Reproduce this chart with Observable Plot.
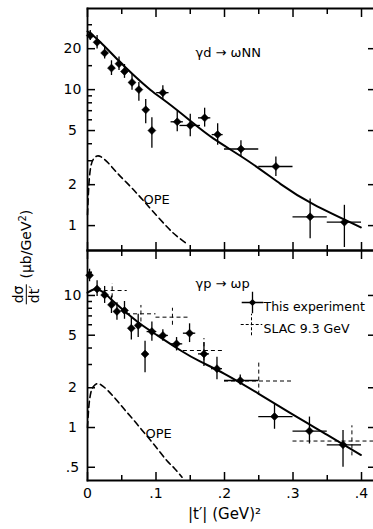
<!DOCTYPE html>
<html><head><meta charset="utf-8">
<script src="https://cdn.jsdelivr.net/npm/d3@7"></script>
<script src="https://cdn.jsdelivr.net/npm/@observablehq/plot@0.6"></script>
<style>
body{margin:0;background:#fff;}
#wrap{position:relative;width:373px;height:529px;overflow:hidden;font-family:"DejaVu Sans",sans-serif;background:#fff;}
#wrap svg{display:block;}
#ylab{position:absolute;left:26px;top:257px;transform:translate(-50%,-50%) rotate(-90deg);white-space:nowrap;font-size:14px;display:flex;align-items:center;color:#000;}
.frac{display:inline-flex;flex-direction:column;align-items:center;line-height:1.05;margin-right:6px;}
.frac .num{border-bottom:1.3px solid #000;padding:0 1px;}
sup{font-size:10px;}
</style></head><body><div id="wrap"></div>
<script>
// ---------- ticks ----------
const xMajor = [0, 0.1, 0.2, 0.3, 0.4];
const xMinor = [0.05, 0.15, 0.25, 0.35];
const yTopMajor = [1, 2, 5, 10, 20];
const yTopMinor = [3, 4, 6, 7, 8, 9, 15, 30];
const yBotMajor = [0.5, 1, 2, 5, 10];
const yBotMinor = [3, 4, 6, 7, 8, 9, 15];

// ---------- top panel: γd → ωNN (this experiment) ----------
const dT   = [0.004,0.014,0.025,0.035,0.046,0.054,0.065,0.075,0.085,0.094,0.110,0.131,0.150,0.171,0.190,0.224,0.275,0.325,0.375];
const dY   = [25.0,22.3,18.6,14.4,15.5,13.6,11.3,10.0,7.1,5.0,9.5,5.8,5.45,6.2,4.67,3.66,2.72,1.16,1.06];
const dYlo = [23.0,19.9,16.8,12.7,13.8,12.1,9.9,8.2,5.6,3.7,8.4,4.9,4.5,5.3,3.9,3.2,2.3,0.80,0.69];
const dYhi = [27.2,25.0,20.6,16.3,17.4,15.3,12.9,11.3,8.45,6.2,10.7,6.9,6.6,7.3,5.6,4.2,3.2,1.57,1.41];
const dTlo = [null,null,null,null,null,null,null,null,null,null,0.101,0.122,0.135,0.162,0.182,0.20,0.25,0.30,0.35];
const dThi = [null,null,null,null,null,null,null,null,null,null,0.119,0.140,0.165,0.180,0.198,0.25,0.30,0.35,0.40];
// fit and OPE curves (top)
const dFitT = [0,0.004,0.019,0.043,0.068,0.092,0.116,0.150,0.184,0.234,0.282,0.330,0.399];
const dFitY = [26.8,26.0,22.3,16.8,12.7,9.95,8.07,5.9,4.36,3.0,2.02,1.43,0.97];
const dOpeT = [0,0.002,0.005,0.009,0.014,0.020,0.030,0.043,0.060,0.077,0.095,0.116,0.130,0.146];
const dOpeY = [1.2,2.0,2.75,3.1,3.25,3.2,2.9,2.45,2.0,1.62,1.28,0.98,0.84,0.73];

// ---------- bottom panel: γp → ωp ----------
const pT   = [0.003,0.014,0.025,0.035,0.043,0.054,0.064,0.074,0.084,0.094,0.110,0.130,0.149,0.170,0.189,0.223,0.273,0.324,0.373];
const pY   = [14.2,11.2,10.1,8.5,7.57,7.7,5.65,5.93,3.6,5.33,4.98,4.3,5.18,3.61,2.79,2.27,1.21,0.94,0.74];
const pYlo = [12.7,9.8,8.7,7.3,6.5,6.6,4.6,4.8,2.6,4.5,4.5,3.8,4.4,2.9,2.3,2.1,0.97,0.75,0.50];
const pYhi = [15.8,12.9,11.7,9.9,8.8,9.0,6.9,7.2,4.5,6.3,5.5,4.8,6.1,4.4,3.4,2.5,1.5,1.2,0.95];
const pTlo = [null,null,null,null,null,null,null,null,null,0.087,0.102,0.121,0.140,0.162,0.181,0.20,0.25,0.30,0.35];
const pThi = [null,null,null,null,null,null,null,null,null,0.101,0.118,0.139,0.158,0.178,0.197,0.25,0.30,0.35,0.40];
// SLAC 9.3 GeV
const sT   = [0.036,0.078,0.124,0.170,0.250,0.386];
const sY   = [10.9,7.26,6.85,3.83,2.25,0.79];
const sYlo = [9.6,6.3,5.95,3.2,1.76,0.61];
const sYhi = [12.3,8.4,8.0,4.72,3.08,1.03];
const sTlo = [0.014,0.057,0.100,0.140,0.200,0.300];
const sThi = [0.058,0.100,0.150,0.200,0.300,0.450];
// fit and OPE curves (bottom)
const pFitT = [0,0.007,0.014,0.024,0.034,0.053,0.077,0.102,0.136,0.165,0.200,0.250,0.300,0.350,0.399];
const pFitY = [10.5,11.0,11.1,10.5,9.4,7.7,6.1,4.98,3.83,3.15,2.55,1.80,1.25,0.88,0.62];
const pOpeT = [0,0.002,0.005,0.009,0.014,0.020,0.030,0.043,0.055,0.068,0.080,0.092,0.104,0.116,0.127,0.138];
const pOpeY = [1.0,1.45,1.85,2.05,2.15,2.1,1.9,1.6,1.35,1.13,0.95,0.80,0.67,0.56,0.49,0.42];

const pts = (T, Y, lo, hi, tlo, thi) => T.map((t, i) => ({t, y: Y[i], lo: lo[i], hi: hi[i], tlo: tlo[i], thi: thi[i]}));
const curve = (T, Y) => T.map((t, i) => ({t, y: Y[i]}));
const topPts = pts(dT, dY, dYlo, dYhi, dTlo, dThi);
const botPts = pts(pT, pY, pYlo, pYhi, pTlo, pThi);
const slac = pts(sT, sY, sYlo, sYhi, sTlo, sThi);

const fmt = d => d === 0 ? "0" : String(d).replace(/^0\./, ".");
const FONT = "DejaVu Sans, sans-serif";
const common = {
  width: 373, marginLeft: 87, marginRight: 0,
  x: {type: "linear", domain: [0, 0.4175], label: null},
  style: {fontFamily: FONT, fontSize: "14px", background: "transparent", overflow: "visible", color: "black"}
};
const tickW = 1.5;
const xTicks = (anchor) => [
  Plot.axisX(xMajor, {anchor, tickSize: -8, fill: "none", strokeWidth: tickW, label: null}),
  Plot.axisX(xMinor, {anchor, tickSize: -5, fill: "none", strokeWidth: tickW, label: null})
];
const yTicks = (major, minor) => [
  Plot.axisY(major, {anchor: "left", tickSize: -8, fill: "none", strokeWidth: tickW, label: null}),
  Plot.text(major, {y: d => d, text: fmt, frameAnchor: "left", dx: -15, textAnchor: "middle", fontSize: 14}),
  Plot.axisY(minor, {anchor: "left", tickSize: -5, fill: "none", strokeWidth: tickW, label: null}),
  Plot.axisY(major, {anchor: "right", tickSize: -6, fill: "none", strokeWidth: tickW, label: null})
];
const frames = (sides) => sides.map(a => Plot.frame({anchor: a, strokeWidth: 1.8}));
const dataMarks = (P) => [
  Plot.ruleX(P, {x: "t", y1: "lo", y2: "hi", strokeWidth: 1.3}),
  Plot.ruleY(P.filter(d => d.tlo != null), {y: "y", x1: "tlo", x2: "thi", strokeWidth: 1.3}),
  Plot.dot(P, {x: "t", y: "y", symbol: "diamond2", r: 3.6, fill: "black", stroke: "black", strokeWidth: 0.5})
];

const topPlot = Plot.plot({
  ...common, height: 250, marginTop: 8, marginBottom: 0,
  y: {type: "log", domain: [0.656, 39.5], label: null},
  marks: [
    ...xTicks("top"), ...xTicks("bottom"),
    ...yTicks(yTopMajor, yTopMinor),
    ...frames(["left", "top", "bottom"]),
    Plot.line(curve(dOpeT, dOpeY), {x: "t", y: "y", curve: "natural", strokeWidth: 1.6, strokeDasharray: "6,4"}),
    Plot.line(curve(dFitT, dFitY), {x: "t", y: "y", curve: "natural", strokeWidth: 2}),
    ...dataMarks(topPts),
    Plot.text(["γd → ωNN"], {frameAnchor: "top-left", dx: 108, dy: 39, textAnchor: "start", fontSize: 13}),
    Plot.text(["OPE"], {frameAnchor: "top-left", dx: 56, dy: 186, textAnchor: "start", fontSize: 13})
  ]
});

const botPlot = Plot.plot({
  ...common, height: 279, marginTop: 0, marginBottom: 49,
  y: {type: "log", domain: [0.397, 21.9], label: null},
  marks: [
    ...xTicks("top"),
    Plot.axisX(xMajor, {anchor: "bottom", tickSize: -8, tickPadding: 16, tickFormat: fmt, strokeWidth: tickW, label: null}),
    Plot.axisX(xMinor, {anchor: "bottom", tickSize: -5, fill: "none", strokeWidth: tickW, label: null}),
    ...yTicks(yBotMajor, yBotMinor),
    ...frames(["left", "top", "bottom"]),
    Plot.ruleX(slac, {x: "t", y1: "lo", y2: "hi", strokeWidth: 1, strokeDasharray: "4,3"}),
    Plot.ruleY(slac, {y: "y", x1: "tlo", x2: "thi", strokeWidth: 1, strokeDasharray: "4,3", clip: true}),
    Plot.line(curve(pOpeT, pOpeY), {x: "t", y: "y", curve: "natural", strokeWidth: 1.6, strokeDasharray: "6,4"}),
    Plot.line(curve(pFitT, pFitY), {x: "t", y: "y", curve: "natural", strokeWidth: 2}),
    ...dataMarks(botPts),
    Plot.text(["γp → ωp"], {frameAnchor: "top-left", dx: 108, dy: 28, textAnchor: "start", fontSize: 13}),
    Plot.text(["OPE"], {frameAnchor: "top-left", dx: 58, dy: 178, textAnchor: "start", fontSize: 13}),
    // legend
    Plot.dot([0], {frameAnchor: "top-left", dx: 165, dy: 52, symbol: "plus", r: 7, stroke: "black", strokeWidth: 1.3}),
    Plot.dot([0], {frameAnchor: "top-left", dx: 165, dy: 52, symbol: "diamond2", r: 3.2, fill: "black"}),
    Plot.dot([0], {frameAnchor: "top-left", dx: 164, dy: 74, symbol: "plus", r: 7, stroke: "black", strokeWidth: 1, strokeDasharray: "3,2"}),
    Plot.text(["This experiment"], {frameAnchor: "top-left", dx: 176, dy: 52, textAnchor: "start", fontSize: 12.5}),
    Plot.text(["SLAC 9.3 GeV"], {frameAnchor: "top-left", dx: 176, dy: 74, textAnchor: "start", fontSize: 12.5}),
    Plot.text(["|t′| (GeV)²"], {frameAnchor: "bottom", dx: -6, dy: 38, fontSize: 15})
  ]
});

const wrap = document.getElementById("wrap");
wrap.appendChild(topPlot);
wrap.appendChild(botPlot);
const yl = document.createElement("div");
yl.id = "ylab";
yl.innerHTML = '<span class="frac"><span class="num">dσ</span><span>dt′</span></span><span>(μb/GeV<sup>2</sup>)</span>';
wrap.appendChild(yl);
</script></body></html>
